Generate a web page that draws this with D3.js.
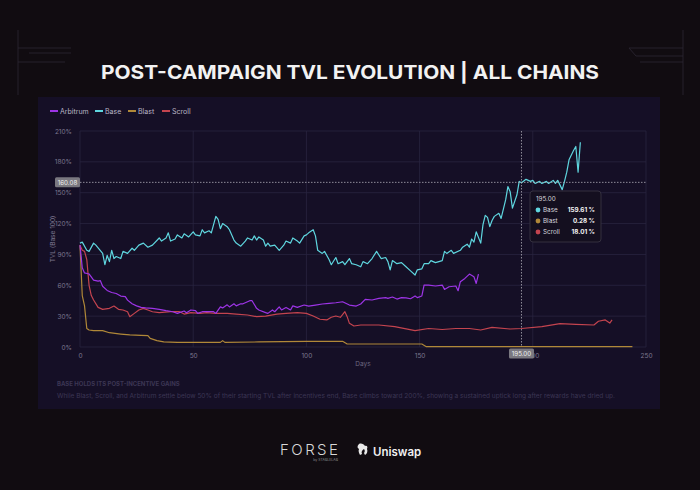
<!DOCTYPE html>
<html>
<head>
<meta charset="utf-8">
<script src="https://cdn.jsdelivr.net/npm/d3@7"></script>
<style>
  html, body { margin: 0; padding: 0; background: #110c11; }
  svg { display: block; }
  text { font-family: Inter, "Noto Sans", sans-serif; }
</style>
</head>
<body>
<div id="chart"></div>
<script>
// ---- data ----
const seriesNames = ["Arbitrum", "Base", "Blast", "Scroll"];
const seriesColors = ["#9d34e6", "#5fd6df", "#b08838", "#c4444f"];

const arbitrumDays = [0,1,2,4,6,8,9,10,12,14,16,18,20,21,23,25,27,29,32,35,38,41,43,46,47,49,51,52,54,57,59,60,62,63,65,66,68,69,71,72,74,75,76,78,79,82,83,85,86,88,89,91,93,94,96,99,101,104,107,110,113,116,119,122,124,126,129,132,135,136,138,140,142,144,146,148,149,151,152,154,157,160,161,163,166,167,168,170,172,174,175,176];
const arbitrumVals = [99,77,72,71,65,64,64.5,59,55,53,52,49.5,49,45.6,42,40,38.5,38,37.6,36.6,35.3,34.3,32.7,35,33.4,36,35.3,32.7,34.3,34.3,34.3,32.7,39,38,41,39,42,40,42,42,44,45,45,37.6,36,33.4,32.7,36,34.3,39,36,38.5,36,40,38.5,40.8,39.8,40.8,41.8,42.4,43,44,40.8,39.8,41.8,46.3,45.7,47.3,48,47.3,48.6,46.6,48,47.8,46.9,49.6,48,49.6,60.3,60.2,59.3,60.2,56,58.6,59.3,54.7,63.5,66.7,70.9,68.3,61.8,70.9];

const baseDays = [0,1,3,4,6,7,10,11,12,13,14,15,16,18,19,21,23,24,26,28,30,32,35,36,38,39,40,42,43,45,46,48,50,51,53,54,55,57,58,59,60,61,62,63,65,66,68,69,71,73,74,76,77,78,79,81,82,83,84,86,88,90,91,93,94,96,97,99,100,101,103,104,105,107,108,110,111,113,114,116,117,119,120,122,124,125,127,129,131,133,135,136,137,138,140,142,144,146,148,149,151,152,154,155,157,160,161,162,164,165,168,169,171,172,173,174,175,177,178,179,180,181,182,183,185,186,188,189,190,191,193,194,195,197,199,200,201,203,204,206,207,209,210,211,213,214,215,216,218,219,220,221];
const baseVals = [101,102,94,93,101,99,91,80,89,83,94,86,88,86,93,91,96,94,99,101,97,99,106,103,106,111,103,105,109,106,110,107,112,109,108,114,111,113,111,119,127,124,115,120,117,114,104,101,98,103,106,104,108,104,107,104,98,101,98,99,94,99,103,101,106,103,101,108,109,111,114,108,94,91,93,85,80,87,81,83,80,86,81,80,78,83,81,86,93,86,87,83,75,84,81,82,78,74,70,75,76,81,81,84,82,84,93,91,94,91,94,97,100,97,105,102,112,101,119,128,126,117,123,127,130,125,143,156,151,135,148,161,159.61,163,161,162,159,161,159,161,159,162,159,162,153,161,170,182,191,195,170,199];

const blastDays = [0,1,2,3,4,6,10,13,18,22,27,30,31,34,37,43,50,62,63,64,79,100,116,118,132,151,153,195,244];
const blastVals = [99,50,40,18,16.5,15.9,15.9,13.9,12.6,11.7,11.3,11,8.4,6.2,4.9,4.5,4.5,4.5,6.2,4.5,4.9,5.5,5.5,2.9,2.9,2.9,0.3,0.28,0.3];

const scrollDays = [0,1,2,3,4,5,6,8,10,13,15,17,19,21,22,24,26,28,30,32,35,40,44,46,49,53,56,60,65,69,74,78,82,87,91,96,100,103,106,109,111,113,115,117,118,119,121,124,128,132,139,148,154,160,166,172,177,182,190,195,204,212,219,227,229,232,234,235];
const scrollVals = [99,94,93,85,60,50,45.7,38.5,36.6,37.6,39.8,36.6,36,34.3,29.5,32.7,36,37.6,36,34.3,33.4,34.3,34.3,32,33.4,32.7,33.4,32.7,32.7,32,31.1,29.5,30.1,32,32.7,33.4,32.7,30.1,27,26.3,28.9,30.1,28.9,34.3,29.5,23,20.4,21.4,21.4,21.4,19.8,15.9,18,17,18,18,16.5,19,17.5,18.01,19.8,22.7,22,21.4,25,26.3,23.3,26.3];

const yTicks = [0, 30, 60, 90, 120, 150, 180, 210];
const xTicks = [0, 50, 100, 150, 200, 250];

const hoverDay = 195;
const hoverY = 160.08;
const tooltipRows = [["Base", "159.61 %"], ["Blast", "0.28 %"], ["Scroll", "18.01 %"]];

const title = "POST-CAMPAIGN TVL EVOLUTION | ALL CHAINS";
const captionHead = "BASE HOLDS ITS POST-INCENTIVE GAINS";
const captionBody = "While Blast, Scroll, and Arbitrum settle below 50% of their starting TVL after incentives end, Base climbs toward 200%, showing a sustained uptick long after rewards have dried up.";

// ---- drawing ----
const W = 700, H = 490;
const svg = d3.select("#chart").append("svg").attr("width", W).attr("height", H);

svg.append("rect").attr("width", W).attr("height", H).attr("fill", "#110c11");

// corner decorations
const deco = svg.append("g").attr("stroke", "#2c2733").attr("stroke-width", 0.8).attr("fill", "none");
deco.append("path").attr("d", "M18,30 V95 M18,48 H71 M29,53 H71 M18,62 H65");
deco.append("path").attr("d", "M683,30 V95 M683,48 H629 L636,56 H683 M683,62 H640");

svg.append("text")
    .attr("x", W / 2).attr("y", 79)
    .attr("text-anchor", "middle")
    .attr("fill", "#f2f2f2")
    .attr("font-size", 19).attr("font-weight", 700)
    .attr("textLength", 498).attr("lengthAdjust", "spacingAndGlyphs")
    .text(title);

// chart panel
svg.append("rect").attr("x", 38).attr("y", 97).attr("width", 622).attr("height", 312).attr("fill", "#150f26");

const x = d3.scaleLinear().domain([0, 250]).range([80, 646]);
const y = d3.scaleLinear().domain([0, 210]).range([347, 131]);

// grid
svg.append("g").selectAll("line").data(yTicks).join("line")
    .attr("x1", 80).attr("x2", 646)
    .attr("y1", d => y(d)).attr("y2", d => y(d))
    .attr("stroke", "#2a2440").attr("stroke-width", 0.8);
svg.append("g").selectAll("line").data(xTicks).join("line")
    .attr("x1", d => x(d)).attr("x2", d => x(d))
    .attr("y1", y(0)).attr("y2", y(210))
    .attr("stroke", "#2a2440").attr("stroke-width", 0.8);

// axes (labels only)
const yAxis = svg.append("g").attr("transform", "translate(80,0)")
    .call(d3.axisLeft(y).tickValues(yTicks).tickSize(0).tickPadding(8).tickFormat(d => d + "%"));
const xAxis = svg.append("g").attr("transform", `translate(0,${y(0)})`)
    .call(d3.axisBottom(x).tickValues(xTicks).tickSize(0).tickPadding(6));
[yAxis, xAxis].forEach(a => {
    a.select(".domain").remove();
    a.selectAll("text").attr("fill", "#7d7890").attr("font-size", 6.5).attr("font-family", "Inter, sans-serif");
});

svg.append("text").attr("x", 363).attr("y", 366).attr("text-anchor", "middle")
    .attr("fill", "#6c6780").attr("font-size", 6.5).text("Days");
svg.append("text")
    .attr("transform", `translate(55,${(y(0) + y(210)) / 2}) rotate(-90)`)
    .attr("text-anchor", "middle").attr("fill", "#7d7890").attr("font-size", 6.5)
    .text("TVL (Base 100)");

// legend
const legend = svg.append("g").attr("transform", "translate(50,111)");
const legendX = [0, 45, 78, 112];
seriesNames.forEach((name, i) => {
    const g = legend.append("g").attr("transform", `translate(${legendX[i]},0)`);
    g.append("line").attr("x1", 0).attr("x2", 8).attr("y1", 0).attr("y2", 0)
        .attr("stroke", seriesColors[i]).attr("stroke-width", 2);
    g.append("text").attr("x", 10).attr("y", 2.5).attr("fill", "#b9b5c5").attr("font-size", 7).text(name);
});

// lines
const line = d3.line().x(d => x(d[0])).y(d => y(d[1]));
const allSeries = [
    d3.zip(arbitrumDays, arbitrumVals),
    d3.zip(baseDays, baseVals),
    d3.zip(blastDays, blastVals),
    d3.zip(scrollDays, scrollVals)
];
// draw order: blast, scroll, arbitrum, base
[2, 3, 0, 1].forEach(i => {
    svg.append("path").datum(allSeries[i])
        .attr("fill", "none")
        .attr("stroke", seriesColors[i])
        .attr("stroke-width", 1.2)
        .attr("stroke-linejoin", "round")
        .attr("d", line);
});

// crosshair
svg.append("line").attr("x1", 80).attr("x2", 646).attr("y1", y(hoverY)).attr("y2", y(hoverY))
    .attr("stroke", "#b0adb8").attr("stroke-width", 0.8).attr("stroke-dasharray", "1.5,1.5");
svg.append("line").attr("x1", x(hoverDay)).attr("x2", x(hoverDay)).attr("y1", y(210)).attr("y2", y(0))
    .attr("stroke", "#b0adb8").attr("stroke-width", 0.8).attr("stroke-dasharray", "1.5,1.5");

svg.append("rect").attr("x", 55).attr("y", y(hoverY) - 5).attr("width", 25).attr("height", 10).attr("rx", 1.5)
    .attr("fill", "#7a7880");
svg.append("text").attr("x", 67.5).attr("y", y(hoverY) + 2.3).attr("text-anchor", "middle")
    .attr("fill", "#f0f0f0").attr("font-size", 6.2).text(hoverY.toFixed(2));

svg.append("rect").attr("x", x(hoverDay) - 12.5).attr("y", 348.5).attr("width", 25).attr("height", 10).attr("rx", 1.5)
    .attr("fill", "#7a7880");
svg.append("text").attr("x", x(hoverDay)).attr("y", 355.8).attr("text-anchor", "middle")
    .attr("fill", "#f0f0f0").attr("font-size", 6.2).text(hoverDay.toFixed(2));

// tooltip
const tip = svg.append("g").attr("transform", "translate(530,191)");
tip.append("rect").attr("width", 71).attr("height", 51).attr("rx", 3)
    .attr("fill", "#140f1f").attr("stroke", "#34303f").attr("stroke-width", 1);
tip.append("text").attr("x", 6).attr("y", 10).attr("fill", "#d8d6de").attr("font-size", 6.3).text(hoverDay.toFixed(2));
tooltipRows.forEach((r, i) => {
    const ci = seriesNames.indexOf(r[0]);
    const ty = 21 + i * 11;
    tip.append("circle").attr("cx", 8).attr("cy", ty - 2).attr("r", 2.4).attr("fill", seriesColors[ci]);
    tip.append("text").attr("x", 13).attr("y", ty).attr("fill", "#d8d6de").attr("font-size", 6.3).text(r[0]);
    tip.append("text").attr("x", 65).attr("y", ty).attr("text-anchor", "end")
        .attr("fill", "#f2f2f2").attr("font-size", 6.3).attr("font-weight", 700).text(r[1]);
});

// caption
svg.append("text").attr("x", 57).attr("y", 386).attr("fill", "#3c3654").attr("font-size", 6)
    .attr("font-weight", 700).text(captionHead);
svg.append("text").attr("x", 57).attr("y", 398).attr("fill", "#3c3654").attr("font-size", 6.6)
    .attr("textLength", 558).attr("lengthAdjust", "spacingAndGlyphs").text(captionBody);

// footer logos
svg.append("text").attr("x", 280).attr("y", 455).attr("fill", "#d8d8d8").attr("font-size", 15)
    .attr("font-weight", 300).attr("textLength", 58).attr("lengthAdjust", "spacing").text("FORSE");
svg.append("text").attr("x", 338).attr("y", 461).attr("text-anchor", "end").attr("fill", "#8a8a8a")
    .attr("font-size", 3.5).text("by STABLELAB");

const uni = svg.append("g").attr("transform", "translate(356,443)").attr("fill", "#e8e8e8");
uni.append("path").attr("d", "M3,1 C5,0 8,1 9,3 C11,2 12,4 11,6 C12,8 11,11 9,12 L8,10 C9,9 9,7 8,6 C6,7 5,9 6,11 L4,12 C3,10 2,8 3,6 C1,5 1,3 3,1 Z");
svg.append("text").attr("x", 373).attr("y", 456).attr("fill", "#f0f0f0").attr("font-size", 11.5)
    .attr("font-weight", 600).text("Uniswap");
</script>
</body>
</html>
